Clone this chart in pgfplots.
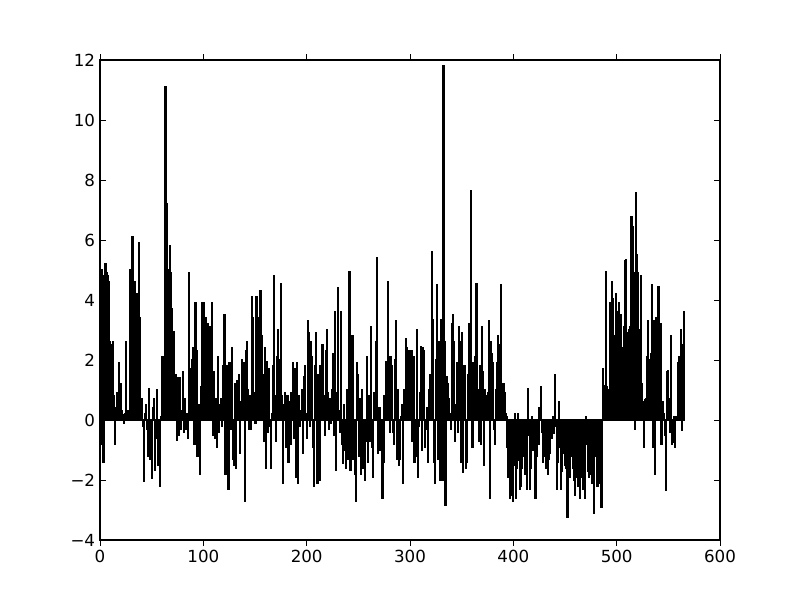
\documentclass[border=0pt]{standalone}
\usepackage{pgfplots}
\usepackage{fontspec}
\setmainfont{DejaVu Sans}
\pgfplotsset{compat=1.18}

\begin{document}
\begin{tikzpicture}
\begin{axis}[
    scale only axis,
    width=446.4pt, height=345.6pt,
    xmin=0, xmax=600, ymin=-4, ymax=12,
    xtick={0,100,...,600},
    ytick={-4,-2,...,12},
    xticklabels={0,100,200,300,400,500,600},
    yticklabels={−4,−2,0,2,4,6,8,10,12},
    tick align=inside,
    major tick length=4pt,
    tick style={black, line width=0.6pt},
    axis line style={line width=0.8pt},
    ticklabel style={font=\fontsize{12}{14}\selectfont},
    ybar, bar width=0.8, bar shift=0.4,
]
% one bar per index, left edge at the index (matplotlib align=edge)
\addplot[fill=black, draw=black, line width=1pt] coordinates {
(0,3.4) (1,5.0) (2,-0.8) (3,-1.4) (4,4.8) (5,5.2) (6,4.9) (7,4.8) (8,4.6) (9,2.6)
(10,0.6) (11,2.5) (12,2.6) (13,0.8) (14,-0.8) (15,0.4) (16,0.9) (17,0.5) (18,1.9) (19,1.05)
(20,1.2) (21,0.3) (22,0.17) (23,-0.1) (24,0.2) (25,2.6) (26,0.3) (27,0.2) (28,0.3) (29,5.0)
(30,3.5) (31,6.1) (32,4.6) (33,4.6) (34,3.6) (35,4.2) (36,1.5) (37,5.9) (38,3.4) (39,0.3)
(40,0.7) (41,-0.2) (42,-2.05) (43,0.2) (44,0.5) (45,-0.3) (46,-1.2) (47,1.06) (48,-1.3) (49,-0.4)
(50,-1.95) (51,0.4) (52,0.7) (53,-1.67) (54,-0.6) (55,1.0) (56,-1.5) (57,-0.5) (58,-2.2) (59,0.1)
(60,2.1) (61,0.7) (62,1.0) (63,11.1) (64,7.2) (65,5.0) (66,3.8) (67,5.8) (68,4.9) (69,3.7)
(70,1.9) (71,2.95) (72,1.5) (73,1.5) (74,-0.67) (75,1.4) (76,-0.5) (77,1.4) (78,-0.3) (79,0.3)
(80,1.6) (81,-0.4) (82,0.7) (83,-0.3) (84,0.2) (85,-0.6) (86,4.9) (87,1.7) (88,1.3) (89,2.0)
(90,2.4) (91,-0.8) (92,3.9) (93,2.3) (94,-1.2) (95,0.5) (96,-1.8) (97,1.1) (98,3.9) (99,3.2)
(100,3.9) (101,1.5) (102,3.4) (103,1.8) (104,3.2) (105,0.9) (106,3.1) (107,2.0) (108,3.9) (109,-0.5)
(110,1.6) (111,-0.6) (112,0.7) (113,-0.9) (114,2.1) (115,-0.4) (116,0.5) (117,0.7) (118,-0.2) (119,1.8)
(120,3.5) (121,-1.8) (122,1.8) (123,0.4) (124,-2.3) (125,1.9) (126,-0.3) (127,2.4) (128,-1.3) (129,-1.5)
(130,1.2) (131,-1.6) (132,1.3) (133,1.0) (134,1.5) (135,-1.1) (136,0.6) (137,2.0) (138,0.3) (139,1.9)
(140,-2.7) (141,2.3) (142,2.6) (143,1.0) (144,-0.3) (145,0.8) (146,-0.3) (147,4.1) (148,3.4) (149,0.9)
(150,-0.1) (151,4.1) (152,3.4) (153,2.8) (154,1.9) (155,4.3) (156,2.8) (157,1.5) (158,-0.7) (159,2.4)
(160,-1.6) (161,1.95) (162,-0.4) (163,1.7) (164,-0.2) (165,-1.6) (166,0.2) (167,1.8) (168,4.8) (169,0.8)
(170,-0.7) (171,2.1) (172,3.0) (173,1.2) (174,2.0) (175,4.55) (176,0.8) (177,-2.1) (178,0.5) (179,0.9)
(180,-0.9) (181,0.8) (182,-1.4) (183,0.6) (184,-0.8) (185,0.9) (186,1.9) (187,-0.6) (188,1.7) (189,-1.9)
(190,1.9) (191,-2.1) (192,0.8) (193,-0.2) (194,0.3) (195,1.0) (196,-1.1) (197,1.45) (198,1.8) (199,0.2)
(200,-0.6) (201,3.3) (202,2.9) (203,-0.2) (204,2.6) (205,2.1) (206,-0.9) (207,-2.2) (208,1.8) (209,2.9)
(210,-2.1) (211,1.5) (212,-2.0) (213,1.8) (214,1.8) (215,2.5) (216,0.8) (217,-0.5) (218,2.3) (219,3.0)
(220,0.9) (221,-0.3) (222,0.7) (223,-0.1) (224,1.0) (225,2.2) (226,-0.5) (227,3.6) (228,-1.67) (229,0.9)
(230,4.4) (231,0.3) (232,-0.4) (233,3.6) (234,-0.8) (235,-1.45) (236,0.5) (237,-1.0) (238,-1.6) (239,1.0)
(240,-1.3) (241,4.95) (242,-1.67) (243,0.6) (244,2.8) (245,-1.3) (246,-1.8) (247,-2.7) (248,1.9) (249,1.5)
(250,-1.2) (251,0.7) (252,-1.8) (253,1.0) (254,-1.6) (255,-0.9) (256,-2.0) (257,-0.7) (258,2.1) (259,-1.4)
(260,0.8) (261,-0.7) (262,3.1) (263,-0.9) (264,-1.9) (265,0.9) (266,0.4) (267,2.6) (268,5.4) (269,-1.1)
(270,0.4) (271,-1.0) (272,-0.1) (273,-2.6) (274,-1.4) (275,0.8) (276,1.95) (277,1.9) (278,4.6) (279,2.1)
(280,-0.4) (281,2.1) (282,1.8) (283,-0.4) (284,-0.8) (285,2.0) (286,3.3) (287,-1.3) (288,1.0) (289,-1.5)
(290,-1.3) (291,0.1) (292,0.5) (293,-2.1) (294,1.0) (295,0.7) (296,2.7) (297,2.4) (298,1.9) (299,2.3)
(300,1.3) (301,2.3) (302,-0.7) (303,2.1) (304,-1.4) (305,-1.2) (306,3.0) (307,-1.9) (308,-0.2) (309,0.9)
(310,2.45) (311,-1.0) (312,2.4) (313,2.3) (314,-0.9) (315,-0.3) (316,0.4) (317,-1.4) (318,1.0) (319,1.5)
(320,0.7) (321,5.6) (322,3.35) (323,-1.4) (324,-2.1) (325,2.0) (326,4.5) (327,-1.3) (328,2.6) (329,-2.0)
(330,3.35) (331,-2.0) (332,11.8) (333,2.6) (334,-2.85) (335,1.45) (336,1.2) (337,0.7) (338,0.2) (339,-0.3)
(340,3.2) (341,3.5) (342,2.6) (343,-0.7) (344,0.5) (345,1.9) (346,-0.4) (347,3.1) (348,2.6) (349,-1.4)
(350,2.9) (351,-1.75) (352,1.8) (353,1.8) (354,-1.6) (355,-1.4) (356,1.5) (357,3.2) (358,0.7) (359,7.65)
(360,-0.9) (361,1.9) (362,1.8) (363,2.1) (364,4.55) (365,1.0) (366,-0.7) (367,1.8) (368,-0.8) (369,3.1)
(370,1.6) (371,-1.5) (372,1.0) (373,0.5) (374,0.8) (375,0.9) (376,3.3) (377,-2.6) (378,2.6) (379,2.2)
(380,1.9) (381,-0.3) (382,-0.8) (383,1.0) (384,1.9) (385,2.8) (386,1.2) (387,2.5) (388,4.5) (389,0.7)
(390,1.2) (391,0.9) (392,0.2) (393,0.1) (394,-0.9) (395,-1.9) (396,-2.6) (397,-1.5) (398,-2.5) (399,-2.7)
(400,-1.5) (401,0.2) (402,-2.6) (403,-1.6) (404,0.2) (405,-1.35) (406,-2.3) (407,-2.2) (408,-1.6) (409,-1.2)
(410,-0.6) (411,-1.8) (412,-0.9) (413,-2.3) (414,1.06) (415,-0.5) (416,-2.3) (417,-1.6) (418,0.1) (419,-1.0)
(420,-0.95) (421,-2.6) (422,-1.2) (423,-0.3) (424,-0.8) (425,0.4) (426,1.1) (427,-0.4) (428,-1.4) (429,-0.6)
(430,-1.2) (431,-1.6) (432,-0.8) (433,-1.8) (434,-1.3) (435,-1.1) (436,-0.4) (437,-0.6) (438,0.1) (439,-0.45)
(440,1.5) (441,-0.2) (442,-2.3) (443,-1.4) (444,0.6) (445,-0.9) (446,-2.3) (447,-1.7) (448,-0.7) (449,-1.1)
(450,-1.5) (451,-1.6) (452,-3.25) (453,-1.8) (454,-1.9) (455,-0.9) (456,-1.2) (457,-1.6) (458,-2.0) (459,-2.5)
(460,-1.9) (461,-0.6) (462,-2.2) (463,-2.2) (464,-2.6) (465,-0.8) (466,-1.9) (467,-2.3) (468,-1.6) (469,-2.6)
(470,0.1) (471,-0.8) (472,-1.7) (473,-1.9) (474,-0.7) (475,-1.8) (476,-2.1) (477,-2.1) (478,-3.1) (479,-0.9)
(480,-1.2) (481,-2.2) (482,-1.3) (483,-1.5) (484,-2.1) (485,-2.9) (486,1.7) (487,1.15) (488,0.2) (489,4.94)
(490,1.1) (491,1.0) (492,0.9) (493,3.9) (494,1.0) (495,4.6) (496,4.05) (497,1.0) (498,2.8) (499,4.2)
(500,3.6) (501,0.9) (502,3.9) (503,2.8) (504,3.5) (505,2.4) (506,1.1) (507,3.1) (508,5.3) (509,5.35)
(510,1.1) (511,2.9) (512,3.0) (513,3.1) (514,6.78) (515,6.45) (516,4.9) (517,-0.3) (518,7.56) (519,5.5)
(520,4.9) (521,3.0) (522,3.0) (523,4.8) (524,1.2) (525,0.6) (526,-0.9) (527,0.67) (528,0.7) (529,2.1)
(530,3.3) (531,0.9) (532,2.0) (533,2.2) (534,4.5) (535,-0.9) (536,3.3) (537,-1.8) (538,3.4) (539,2.0)
(540,4.45) (541,3.2) (542,3.2) (543,-0.8) (544,0.6) (545,0.2) (546,-0.5) (547,-2.35) (548,1.6) (549,1.65)
(550,0.7) (551,-0.4) (552,2.8) (553,-0.8) (554,-0.75) (555,0.1) (556,-0.9) (557,0.1) (558,0.05) (559,1.9)
(560,2.1) (561,1.5) (562,3.0) (563,-0.33) (564,2.5) (565,3.6)
};
\end{axis}
\path ([xshift=-72pt,yshift=-43.2pt]current axis.south west)
  rectangle ([xshift=57.6pt,yshift=43.2pt]current axis.north east);
\end{tikzpicture}
\end{document}
